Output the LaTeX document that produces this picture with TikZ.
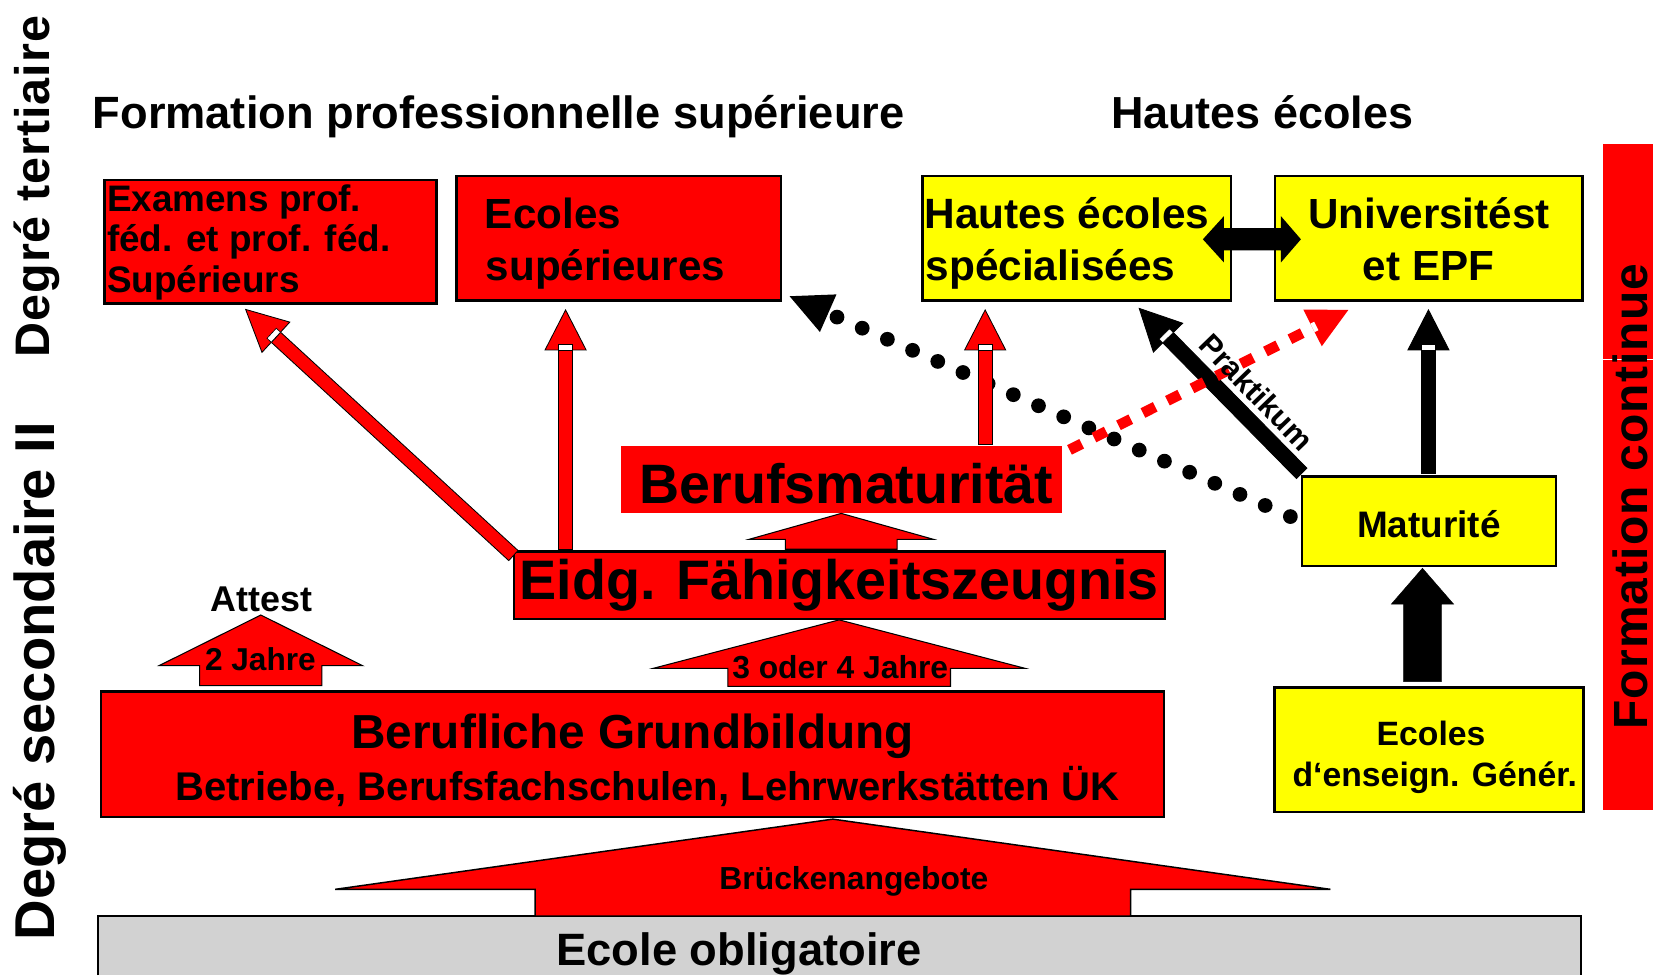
\documentclass[tikz,border=0pt]{standalone}
\usepackage{fontspec}
\setmainfont{Liberation Sans}
\usetikzlibrary{calc}
\definecolor{pred}{HTML}{FF0000}
\definecolor{pyel}{HTML}{FFFF00}
\definecolor{pgrey}{HTML}{D2D2D2}
\newcommand\fsz[1]{\fontsize{#1}{#1}\selectfont\bfseries}
% line arrow: #1 fill, #2 outline, #3 tail, #4 tip, #5 half shaft, #6 head length, #7 half head, #8 notch length
\newcommand\larrow[8]{%
  \coordinate (lab) at ($(#4)!#6!(#3)$);
  \coordinate (lan) at ($(lab)!#8!(#4)$);
  \filldraw[fill=#1,draw=#2,line width=0.8pt] ($(#3)!#5!90:(lab)$) -- ($(#3)!#5!-90:(lab)$) -- ($(lab)!#5!90:(#3)$) -- ($(lab)!#5!-90:(#3)$) -- cycle;
  \filldraw[fill=#1,draw=#2,line width=0.8pt] ($(lab)!#7!90:(#4)$) -- (#4) -- ($(lab)!#7!-90:(#4)$) -- cycle;
  \filldraw[fill=white,draw=#2,line width=0.6pt] ($(lab)!#5!90:(#4)$) -- ($(lab)!#5!-90:(#4)$) -- ($(lan)!#5!-90:(#4)$) -- ($(lan)!#5!90:(#4)$) -- cycle;
}
% block arrow pointing up: #1 style, #2 tip, #3 half head, #4 head length, #5 half shaft, #6 shaft length
\newcommand\blockup[6]{%
  \filldraw[#1] (#2) -- ++(#3,#4) -- ++({-(#3)+(#5)},0) -- ++(0,#6) -- ++({-2*(#5)},0) -- ++(0,{-(#6)}) -- ++({-(#3)+(#5)},0) -- cycle;
}
\tikzset{
  box/.style={anchor=north west, inner sep=0pt, outer sep=0pt, draw=black, line width=2.2pt},
  rbox/.style={box, fill=pred},
  ybox/.style={box, fill=pyel},
  txt/.style={inner sep=0pt, outer sep=0pt, text=black},
  redblock/.style={fill=pred, draw=black, line width=1pt, line join=miter},
}
\begin{document}
\begin{tikzpicture}[x=1pt,y=-1pt]
\useasboundingbox (0,0) rectangle (1568,925);

% ---------- boxes ----------
\node[rbox, minimum width=315pt, minimum height=117pt] (exam) at (99,171) {};
\node[rbox, minimum width=308pt, minimum height=118pt] (ecsup) at (433,167) {};
\node[ybox, minimum width=292.5pt, minimum height=118pt] (hes) at (875,167) {};
\node[ybox, minimum width=291.5pt, minimum height=118pt] (univ) at (1209.5,167) {};
\node[rbox, draw=none, minimum width=418pt, minimum height=63.5pt] (bm) at (589,423) {};
\node[rbox, minimum width=617.5pt, minimum height=64pt] (efz) at (487.5,523) {};
\node[rbox, minimum width=1008pt, minimum height=119pt] (bg) at (96,656) {};
\node[ybox, minimum width=241pt, minimum height=85pt] (mat) at (1235,452) {};
\node[ybox, minimum width=293pt, minimum height=118pt] (ecg) at (1209,652) {};
\node[anchor=north west, inner sep=0pt, outer sep=0pt, fill=pgrey, minimum width=1407pt, minimum height=56pt] (eo) at (93,869) {};
\draw[line width=1.8pt] (eo.south west) -- (eo.north west) -- (eo.north east) -- (eo.south east);
\node[anchor=north west, inner sep=0pt, outer sep=0pt, fill=pred, minimum width=47pt, minimum height=631pt] (fc) at (1521,137) {};
\draw[white, line width=1pt] ($(fc.north west)+(0,204)$) -- ($(fc.north east)+(0,204)$);

% ---------- block arrows ----------
\coordinate (j2tip) at ($(bg.north west)+(151.4,-72.6)$);
\blockup{redblock}{j2tip}{96.5}{48}{58}{19}
\coordinate (j34tip) at ($(efz.south west)+(308.5,1)$);
\blockup{redblock}{j34tip}{176.5}{46}{105.6}{17}
\coordinate (smtip) at ($(bm.south west)+(209,0.5)$);
\blockup{redblock}{smtip}{87.5}{24.6}{53}{9.4}
\coordinate (brtip) at ($(bg.south west)+(694,2)$);
\blockup{redblock, line width=1.4pt}{brtip}{472}{66.6}{282.5}{25.4}
\coordinate (egtip) at ($(mat.south west)+(114.3,2)$);
\blockup{fill=black}{egtip}{29.5}{34}{18}{73.6}

% ---------- dotted line Maturite -> Ecoles superieures ----------
\coordinate (dS) at ($(mat.west)+(-11,-4.5)$);
\coordinate (dT) at ($(ecsup.south east)+(8,-4)$);
\coordinate (dB) at ($(dT)!40pt!(dS)$);
\draw[line width=14pt, line cap=round, dash pattern=on 0pt off 26.1pt] (dS) -- (dB);
\fill ($(dB)!19.5pt!90:(dT)$) -- (dT) -- ($(dB)!19.5pt!-90:(dT)$) -- cycle;

% ---------- line arrows ----------
\coordinate (aS) at ($(efz.north west)+(-0.5,4)$);
\coordinate (aT) at ($(exam.south west)+(134,5.5)$);
\larrow{pred}{black}{aS}{aT}{6.5pt}{39pt}{19.5pt}{5.5pt}
\coordinate (bS) at ($(efz.north west)+(49,-2)$);
\coordinate (bT) at ($(ecsup.south west)+(103.5,9)$);
\larrow{pred}{black}{bS}{bT}{6.5pt}{38pt}{19.5pt}{5.5pt}
\coordinate (cS) at ($(bm.north west)+(345.5,-1)$);
\coordinate (cT) at ($(hes.south west)+(59.5,9)$);
\larrow{pred}{black}{cS}{cT}{6.5pt}{38pt}{19.5pt}{5.5pt}
\coordinate (mS) at ($(mat.north west)+(120,-3)$);
\coordinate (mT) at ($(univ.south west)+(145.5,9)$);
\larrow{black}{black}{mS}{mT}{6.5pt}{38pt}{19.5pt}{5.5pt}
\coordinate (pkS) at ($(mat.north west)+(-0.3,-3)$);
\coordinate (pkT) at ($(hes.south west)+(205.6,7.5)$);
\larrow{black}{black}{pkS}{pkT}{7pt}{39pt}{19.5pt}{5pt}

% ---------- red dashed arrow ----------
\coordinate (rdS) at ($(bm.north east)+(3,6)$);
\coordinate (rdT) at ($(univ.south west)+(69.5,9)$);
\coordinate (rdB) at ($(rdT)!38pt!(rdS)$);
\coordinate (rdN) at ($(rdB)!4pt!(rdT)$);
\draw[pred, line width=10pt, dash pattern=on 13pt off 13pt, dash phase=21pt] (rdS) -- (rdB);
\fill[pred] ($(rdB)!19.5pt!90:(rdT)$) -- (rdT) -- ($(rdB)!19.5pt!-90:(rdT)$) -- cycle;
\fill[white] ($(rdB)!4.5pt!90:(rdT)$) -- ($(rdB)!4.5pt!-90:(rdT)$) -- ($(rdN)!4.5pt!-90:(rdT)$) -- ($(rdN)!4.5pt!90:(rdT)$) -- cycle;

% ---------- double arrow ----------
\coordinate (dl) at ($(hes.east)+(-26.5,1)$);
\fill[black] (dl) -- ++(20,-22) -- ++(0,11.5) -- ++(54,0) -- ++(0,-11.5) -- ++(19,22) -- ++(-19,22) -- ++(0,-11.5) -- ++(-54,0) -- ++(0,11.5) -- cycle;

% ---------- texts ----------
\node[txt, anchor=base west] (tFPS) at (88,121.5) {\fsz{42.9}Formation professionnelle supérieure};
\node[txt, anchor=base west] (tHE) at (1054,121.5) {\fsz{42.6}Hautes écoles};
\node[txt, anchor=base west] (tEx1) at (101.5,201) {\fsz{35}Examens prof.};
\node[txt, anchor=base west] (tEx2) at (101.5,239) {\fsz{35}féd. et prof. féd.};
\node[txt, anchor=base west] (tEx3) at (101.5,277) {\fsz{35}Supérieurs};
\node[txt, anchor=base west] (tEs1) at (460,217) {\fsz{40}Ecoles};
\node[txt, anchor=base west] (tEs2) at (461,266) {\fsz{40}supérieures};
\node[txt, anchor=base west] (tHs1) at (877,217) {\fsz{40.2}Hautes écoles};
\node[txt, anchor=base west] (tHs2) at (878,266) {\fsz{40.2}spécialisées};
\node[txt, anchor=base] (tU1) at (1355.5,217) {\fsz{40}Universitést};
\node[txt, anchor=base] (tU2) at (1355,266) {\fsz{40}et EPF};
\node[txt, anchor=base] (tBM) at (803,477.5) {\fsz{52.7}Berufsmaturität};
\node[txt, anchor=base] (tEFZ) at (796,569) {\fsz{52.8}Eidg. Fähigkeitszeugnis};
\node[txt, anchor=base] (tBG1) at (600,710) {\fsz{45.3}Berufliche Grundbildung};
\node[txt, anchor=base] (tBG2) at (614,759) {\fsz{38}Betriebe, Berufsfachschulen, Lehrwerkstätten ÜK};
\node[txt, anchor=base] (tAtt) at (248,580) {\fsz{34}Attest};
\node[txt, anchor=base] (t2J) at (247,636) {\fsz{30}2 Jahre};
\node[txt, anchor=base] (t34) at (797,644) {\fsz{30.2}3 oder 4 Jahre};
\node[txt, anchor=base] (tBr) at (810,843.6) {\fsz{30.2}Brückenangebote};
\node[txt, anchor=base] (tEO) at (701,916) {\fsz{43}Ecole obligatoire};
\node[txt, anchor=base] (tMat) at (1355.5,510) {\fsz{35}Maturité};
\node[txt, anchor=base] (tEcg1) at (1357.5,706.7) {\fsz{32}Ecoles};
\node[txt, anchor=base] (tEcg2) at (1361,746) {\fsz{32}d‘enseign. Génér.};
\node[txt, rotate=-46] (tPrak) at (1192,372) {\fsz{29}Praktikum};
\node[txt, rotate=90, anchor=base west] (tDT) at (47,339) {\fsz{46}\addfontfeature{LetterSpace=2}Degré tertiaire};
\node[txt, rotate=90, anchor=base west] (tDS) at (52,892) {\fsz{53.3}Degré secondaire II};
\node[txt, rotate=90, anchor=base west] (tFC) at (1563,692) {\fsz{45.5}\addfontfeature{LetterSpace=2.4}Formation continue};
\end{tikzpicture}
\end{document}
